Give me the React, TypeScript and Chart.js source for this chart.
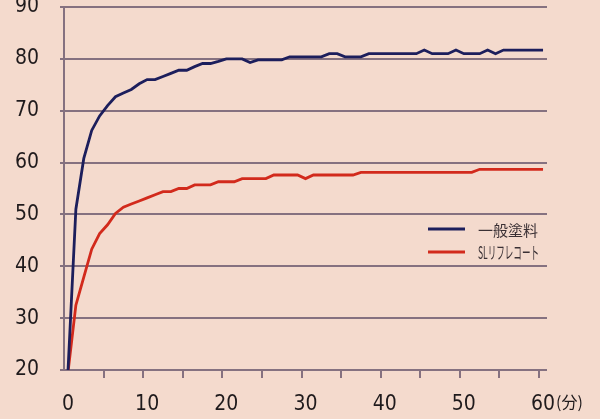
import { useEffect, useRef } from 'react';
import { Chart, registerables } from 'chart.js';

Chart.register(...registerables);

const minutes = [
  '0', '1', '2', '3', '4', '5', '6', '7', '8', '9',
  '10', '11', '12', '13', '14', '15', '16', '17', '18', '19',
  '20', '21', '22', '23', '24', '25', '26', '27', '28', '29',
  '30', '31', '32', '33', '34', '35', '36', '37', '38', '39',
  '40', '41', '42', '43', '44', '45', '46', '47', '48', '49',
  '50', '51', '52', '53', '54', '55', '56', '57', '58', '59',
  '60',
];

const generalPaint = [
  19.7, 51.0, 60.8, 66.2, 69.0, 71.0, 72.7, 73.4, 74.1, 75.2,
  76.0, 76.0, 76.6, 77.2, 77.8, 77.8, 78.5, 79.1, 79.1, 79.5,
  80.0, 80.0, 80.0, 79.3, 79.8, 79.8, 79.8, 79.8, 80.4, 80.4,
  80.4, 80.4, 80.4, 81.0, 81.0, 80.4, 80.4, 80.4, 81.0, 81.0,
  81.0, 81.0, 81.0, 81.0, 81.0, 81.7, 81.0, 81.0, 81.0, 81.7,
  81.0, 81.0, 81.0, 81.7, 81.0, 81.7, 81.7, 81.7, 81.7, 81.7,
  81.7,
];

const slReflectCoat = [
  19.5, 32.5, 37.9, 43.3, 46.3, 48.0, 50.2, 51.4, 52.0, 52.6,
  53.2, 53.8, 54.4, 54.4, 55.0, 55.0, 55.7, 55.7, 55.7, 56.3,
  56.3, 56.3, 56.9, 56.9, 56.9, 56.9, 57.6, 57.6, 57.6, 57.6,
  56.9, 57.6, 57.6, 57.6, 57.6, 57.6, 57.6, 58.1, 58.1, 58.1,
  58.1, 58.1, 58.1, 58.1, 58.1, 58.1, 58.1, 58.1, 58.1, 58.1,
  58.1, 58.1, 58.7, 58.7, 58.7, 58.7, 58.7, 58.7, 58.7, 58.7,
  58.7,
];

const seriesNames = ['一般塗料', 'SLリフレコート'];
const yMin = 20;
const yMax = 90;
const yStep = 10;
const xLabelEvery = 10;
const xTickEvery = 5;
const xUnit = '(分)';

const BG = '#f4dacd';
const GRID = '#857180';
const NAVY = '#1c1e5c';
const RED = '#d22a1c';
const TEXT = '#1f1a1c';
const TICK_FONT = "'Liberation Sans Narrow', 'DejaVu Sans Condensed', 'Liberation Sans', sans-serif";
const CJK_FONT = "'Noto Sans CJK JP', 'Noto Sans', sans-serif";

const X_TICK_LEN = 8;
const X_PAD = 14;
const TICK_SIZE = 21;

const overlayPlugin = {
  id: 'overlay',
  afterDraw(chart: any) {
    const ctx = chart.ctx as CanvasRenderingContext2D;
    const area = chart.chartArea;
    const xs = chart.scales.x;
    ctx.save();
    ctx.font = `${TICK_SIZE}px ${TICK_FONT}`;
    const last = minutes[minutes.length - 1];
    const lw = ctx.measureText(last).width;
    const px = xs.getPixelForValue(minutes.length - 1);
    ctx.fillStyle = TEXT;
    ctx.textBaseline = 'top';
    ctx.textAlign = 'left';
    ctx.font = `16px ${CJK_FONT}`;
    ctx.fillText(xUnit, px + lw / 2 + 1, xs.top + X_TICK_LEN + X_PAD + 2);
    ctx.restore();

    const colors = [NAVY, RED];
    const rows = [229, 252];
    const sizes = [15, 17];
    const lineX0 = area.right - 119;
    const lineX1 = area.right - 82;
    const textX = area.right - 69;
    const targetW = [62, 61];
    ctx.save();
    ctx.textBaseline = 'middle';
    ctx.textAlign = 'left';
    seriesNames.forEach((name, i) => {
      const y = rows[i];
      ctx.strokeStyle = colors[i];
      ctx.lineWidth = 3;
      ctx.beginPath();
      ctx.moveTo(lineX0, y);
      ctx.lineTo(lineX1, y);
      ctx.stroke();
      ctx.font = `${sizes[i]}px ${CJK_FONT}`;
      const w = ctx.measureText(name).width;
      const s = Math.min(1, targetW[i] / w);
      ctx.save();
      ctx.translate(textX, y + 1);
      ctx.scale(s, 1);
      ctx.fillStyle = '#3a3034';
      ctx.fillText(name, 0, 0);
      ctx.restore();
    });
    ctx.restore();
  },
};

export default function App() {
  const ref = useRef<HTMLCanvasElement | null>(null);

  useEffect(() => {
    if (!ref.current) return;
    const chart = new Chart(ref.current, {
      type: 'line',
      data: {
        labels: minutes,
        datasets: [
          {
            label: seriesNames[0],
            data: generalPaint,
            borderColor: NAVY,
            borderWidth: 2.8,
            pointRadius: 0,
            tension: 0,
            fill: false,
          },
          {
            label: seriesNames[1],
            data: slReflectCoat,
            borderColor: RED,
            borderWidth: 2.8,
            pointRadius: 0,
            tension: 0,
            fill: false,
          },
        ],
      },
      options: {
        animation: false,
        responsive: false,
        devicePixelRatio: 1,
        layout: { padding: { top: 7, right: 53, bottom: 0, left: 0 } },
        plugins: {
          legend: { display: false },
          tooltip: { enabled: false },
        },
        scales: {
          x: {
            type: 'category',
            offset: true,
            border: { display: false },
            grid: {
              offset: true,
              drawOnChartArea: false,
              drawTicks: true,
              tickLength: X_TICK_LEN,
              lineWidth: 2,
              color: (c: any) =>
                c.type === 'tick' && c.index > 0 && c.index % xTickEvery === 0 ? GRID : 'rgba(0,0,0,0)',
              tickColor: (c: any) =>
                c.type === 'tick' && c.index > 0 && c.index % xTickEvery === 0 ? GRID : 'rgba(0,0,0,0)',
            },
            ticks: {
              autoSkip: false,
              maxRotation: 0,
              padding: X_PAD,
              color: TEXT,
              font: { family: TICK_FONT, size: TICK_SIZE },
              callback: function (this: any, value: any, index: number) {
                return index % xLabelEvery === 0 ? minutes[index] : '';
              },
            },
            afterFit: (s: any) => {
              s.height = 49;
            },
          },
          y: {
            min: yMin,
            max: yMax,
            border: { display: true, color: GRID, width: 2 },
            grid: {
              color: GRID,
              lineWidth: 2,
              tickLength: 4,
              tickColor: GRID,
            },
            ticks: {
              stepSize: yStep,
              padding: 21,
              color: TEXT,
              font: { family: TICK_FONT, size: TICK_SIZE },
            },
            afterFit: (s: any) => {
              s.width = 64;
              s.paddingTop = 0;
              s.paddingBottom = 0;
            },
          },
        },
      },
      plugins: [overlayPlugin],
    });
    return () => chart.destroy();
  }, []);

  return (
    <div style={{ position: 'fixed', left: 0, top: 0, width: 600, height: 419, background: BG }}>
      <canvas ref={ref} width={600} height={419} style={{ display: 'block' }} />
    </div>
  );
}
